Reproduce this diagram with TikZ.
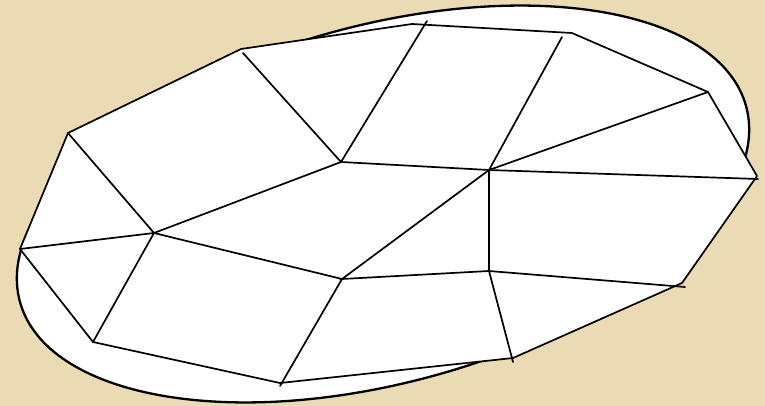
\documentclass[tikz,border=0pt]{standalone}
\usepackage{tikz}
\usetikzlibrary{calc}
\definecolor{parchment}{HTML}{EBDBB4}

\begin{document}
\begin{tikzpicture}[x=1pt, y=-1pt,
  edge/.style={draw=black, line width=1.7pt, line cap=round},
  hull/.style={fill=white, draw=black, line width=1.7pt, line join=round}
]
  \fill[parchment] (0,0) rectangle (765,406);
  \useasboundingbox (0,0) rectangle (765,406);

  \draw[line width=2.3pt, fill=white, shift={(383,204)}, rotate=15]
    (0,0) ellipse [x radius=376pt, y radius=179pt];

  \coordinate (v1)  at (20,249);
  \coordinate (v2)  at (68,133);
  \coordinate (v3)  at (241,49);
  \coordinate (v4)  at (412,24);
  \coordinate (v5)  at (572,33);
  \coordinate (v6)  at (708,92);
  \coordinate (v7)  at (757,176);
  \coordinate (v8)  at (682,283);
  \coordinate (v9)  at (513,358);
  \coordinate (v10) at (280,383);
  \coordinate (v11) at (93,342);

  \coordinate (p1) at (154,233);
  \coordinate (p2) at (341,162);
  \coordinate (p3) at (489,170);
  \coordinate (p4) at (342,279);
  \coordinate (p5) at (489,271);

  \coordinate (t3)  at (243,53);
  \coordinate (t4)  at (427,21);
  \coordinate (t5)  at (562,37);
  \coordinate (t7)  at (758,179);
  \coordinate (t8)  at (685,287);
  \coordinate (t9)  at (513,362);
  \coordinate (t10) at (280,386);

  \draw[hull] (v1) -- (v2) -- (v3) -- (v4) -- (v5) -- (v6) -- (v7)
    -- (v8) -- (v9) -- (v10) -- (v11) -- cycle;

  \draw[edge] (v2) -- (p1) -- (v1);
  \draw[edge] (v11) -- (p1) -- (p2);
  \draw[edge] (p1) -- (p4);
  \draw[edge] (t3) -- (p2) -- (t4);
  \draw[edge] (p2) -- (p3);
  \draw[edge] (t5) -- (p3) -- (v6);
  \draw[edge] (p3) -- (t7);
  \draw[edge] (p3) -- (p4) -- (p5) -- (p3);
  \draw[edge] (p4) -- (t10);
  \draw[edge] (p5) -- (t9);
  \draw[edge] (p5) -- (t8);
\end{tikzpicture}
\end{document}
